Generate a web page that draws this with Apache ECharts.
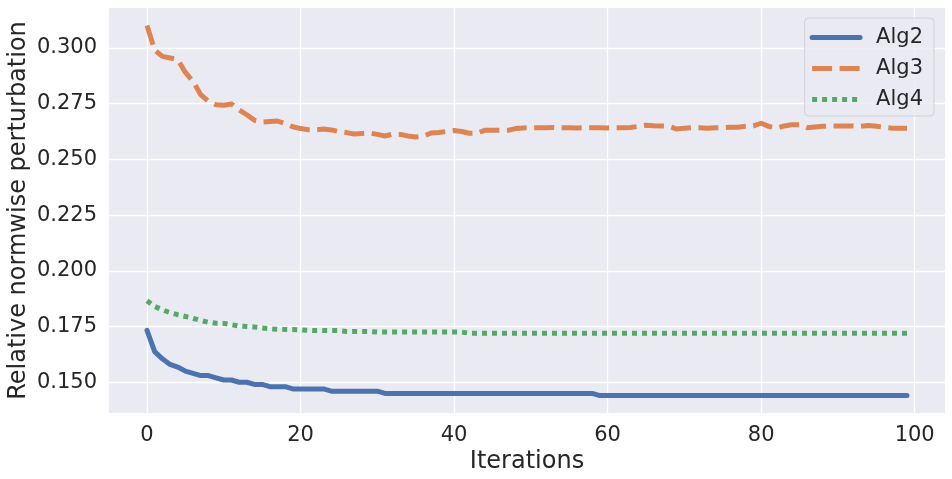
<!DOCTYPE html>
<html>
<head>
<meta charset="utf-8">
<script src="https://cdn.jsdelivr.net/npm/echarts@6/dist/echarts.min.js"></script>
<style>
html,body{margin:0;padding:0;background:#ffffff;}
#chart{width:952px;height:479px;}
</style>
</head>
<body>
<div id="chart"></div>
<script>
const seriesNames = ['Alg2', 'Alg3', 'Alg4'];
const xTicks = [0, 20, 40, 60, 80, 100];
const yTicks = [0.150, 0.175, 0.200, 0.225, 0.250, 0.275, 0.300];

const alg2 = [
  0.1733, 0.1637, 0.1605, 0.1580, 0.1568, 0.1550, 0.1540, 0.1530, 0.1530, 0.1520,
  0.1510, 0.1510, 0.1500, 0.1500, 0.1490, 0.1490, 0.1480, 0.1480, 0.1480, 0.1470,
  0.1470, 0.1470, 0.1470, 0.1470, 0.1460, 0.1460, 0.1460, 0.1460, 0.1460, 0.1460,
  0.1460, 0.1450, 0.1450, 0.1450, 0.1450, 0.1450, 0.1450, 0.1450, 0.1450, 0.1450,
  0.1450, 0.1450, 0.1450, 0.1450, 0.1450, 0.1450, 0.1450, 0.1450, 0.1450, 0.1450,
  0.1450, 0.1450, 0.1450, 0.1450, 0.1450, 0.1450, 0.1450, 0.1450, 0.1450, 0.1440,
  0.1440, 0.1440, 0.1440, 0.1440, 0.1440, 0.1440, 0.1440, 0.1440, 0.1440, 0.1440,
  0.1440, 0.1440, 0.1440, 0.1440, 0.1440, 0.1440, 0.1440, 0.1440, 0.1440, 0.1440,
  0.1440, 0.1440, 0.1440, 0.1440, 0.1440, 0.1440, 0.1440, 0.1440, 0.1440, 0.1440,
  0.1440, 0.1440, 0.1440, 0.1440, 0.1440, 0.1440, 0.1440, 0.1440, 0.1440, 0.1440
];
const alg3 = [
  0.3100, 0.2990, 0.2962, 0.2955, 0.2948, 0.2890, 0.2850, 0.2790, 0.2760, 0.2745,
  0.2743, 0.2748, 0.2722, 0.2700, 0.2675, 0.2667, 0.2670, 0.2672, 0.2660, 0.2646,
  0.2638, 0.2633, 0.2632, 0.2636, 0.2632, 0.2625, 0.2620, 0.2614, 0.2616, 0.2618,
  0.2612, 0.2605, 0.2613, 0.2612, 0.2605, 0.2600, 0.2604, 0.2618, 0.2620, 0.2625,
  0.2629, 0.2625, 0.2617, 0.2617, 0.2630, 0.2630, 0.2630, 0.2630, 0.2638, 0.2641,
  0.2642, 0.2642, 0.2642, 0.2643, 0.2642, 0.2642, 0.2641, 0.2642, 0.2642, 0.2642,
  0.2641, 0.2642, 0.2642, 0.2643, 0.2648, 0.2653, 0.2651, 0.2650, 0.2648, 0.2636,
  0.2640, 0.2642, 0.2642, 0.2639, 0.2642, 0.2642, 0.2644, 0.2644, 0.2648, 0.2650,
  0.2662, 0.2648, 0.2640, 0.2650, 0.2655, 0.2655, 0.2642, 0.2645, 0.2648, 0.2650,
  0.2650, 0.2650, 0.2650, 0.2648, 0.2652, 0.2648, 0.2644, 0.2640, 0.2640, 0.2640
];
const alg4 = [
  0.1866, 0.1840, 0.1825, 0.1812, 0.1803, 0.1795, 0.1787, 0.1777, 0.1769, 0.1765,
  0.1764, 0.1758, 0.1752, 0.1750, 0.1748, 0.1743, 0.1740, 0.1738, 0.1737, 0.1737,
  0.1735, 0.1733, 0.1732, 0.1732, 0.1732, 0.1732, 0.1728, 0.1728, 0.1728, 0.1728,
  0.1725, 0.1725, 0.1725, 0.1725, 0.1725, 0.1725, 0.1725, 0.1725, 0.1725, 0.1725,
  0.1725, 0.1725, 0.1720, 0.1720, 0.1720, 0.1720, 0.1720, 0.1720, 0.1720, 0.1720,
  0.1720, 0.1720, 0.1720, 0.1720, 0.1720, 0.1720, 0.1720, 0.1720, 0.1720, 0.1720,
  0.1720, 0.1720, 0.1720, 0.1720, 0.1720, 0.1720, 0.1720, 0.1720, 0.1720, 0.1720,
  0.1720, 0.1720, 0.1720, 0.1720, 0.1720, 0.1720, 0.1720, 0.1720, 0.1720, 0.1720,
  0.1720, 0.1720, 0.1720, 0.1720, 0.1720, 0.1720, 0.1720, 0.1720, 0.1720, 0.1720,
  0.1720, 0.1720, 0.1720, 0.1720, 0.1720, 0.1720, 0.1720, 0.1720, 0.1720, 0.1720
];

function pairs(arr) { return arr.map((v, i) => [i, v]); }

const FONT = 'DejaVu Sans';
const TXT = '#262626';

const chart = echarts.init(document.getElementById('chart'), null, {renderer: 'canvas'});
chart.setOption({
  animation: false,
  backgroundColor: '#ffffff',
  textStyle: {fontFamily: FONT},
  grid: {
    left: 109, top: 8, right: 7, bottom: 66,
    outerBoundsMode: 'none', containLabel: false,
    show: true, backgroundColor: '#EAEAF2', borderWidth: 0
  },
  legend: {
    orient: 'vertical',
    right: 18, top: 18,
    data: seriesNames,
    itemWidth: 48, itemHeight: 21, itemGap: 10,
    padding: [9, 11, 6, 5],
    backgroundColor: 'rgba(234,234,242,0.8)',
    borderColor: '#d0d0d6', borderWidth: 1, borderRadius: 4,
    itemStyle: {opacity: 0},
    lineStyle: {width: 5},
    textStyle: {fontFamily: FONT, fontSize: 21, color: TXT, padding: [0, 0, 0, 11], lineHeight: 21}
  },
  xAxis: {
    type: 'value', min: -4.95, max: 103.95,
    name: 'Iterations', nameLocation: 'middle', nameGap: 37, nameMoveOverlap: false,
    nameTextStyle: {fontFamily: FONT, fontSize: 24, color: TXT},
    axisLine: {show: false}, axisTick: {show: false, customValues: xTicks},
    axisLabel: {customValues: xTicks, fontFamily: FONT, fontSize: 21, color: TXT, margin: 12},
    splitLine: {show: true, lineStyle: {color: '#ffffff', width: 1.3}}
  },
  yAxis: {
    type: 'value', min: 0.1362, max: 0.3179,
    name: 'Relative normwise perturbation', nameLocation: 'middle', nameGap: 78, nameMoveOverlap: false,
    nameTextStyle: {fontFamily: FONT, fontSize: 24, color: TXT},
    axisLine: {show: false}, axisTick: {show: false, customValues: yTicks},
    axisLabel: {customValues: yTicks, fontFamily: FONT, fontSize: 21, color: TXT, margin: 12,
      formatter: v => v.toFixed(3)},
    splitLine: {show: true, lineStyle: {color: '#ffffff', width: 1.3}}
  },
  series: [
    {name: 'Alg2', type: 'line', data: pairs(alg2), symbol: 'none', color: '#4C72B0',
     lineStyle: {width: 5, type: 'solid', cap: 'round', join: 'round'}},
    {name: 'Alg3', type: 'line', data: pairs(alg3), symbol: 'none', color: '#DD8452',
     lineStyle: {width: 5, type: [20, 7.5], cap: 'butt', join: 'round'}},
    {name: 'Alg4', type: 'line', data: pairs(alg4), symbol: 'none', color: '#55A868',
     lineStyle: {width: 5, type: [5, 5], cap: 'butt', join: 'round'}}
  ]
});
</script>
</body>
</html>
